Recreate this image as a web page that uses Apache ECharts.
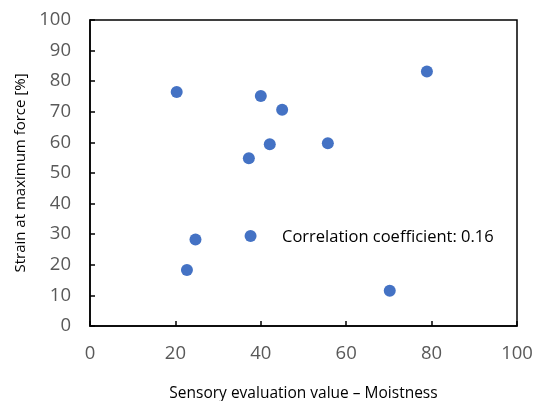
<!DOCTYPE html>
<html><head><meta charset="utf-8">
<script src="https://cdn.jsdelivr.net/npm/echarts@6/dist/echarts.min.js"></script>
<style>html,body{margin:0;padding:0;background:#fff}#c{width:534px;height:401px}</style>
</head><body><div id="c"></div>
<script>
const moistness = [20.3, 40.0, 45.0, 37.2, 42.1, 55.7, 78.9, 24.7, 22.7, 37.6, 70.2];
const strain    = [76.5, 75.2, 70.7, 54.8, 59.4, 59.7, 83.2, 28.3, 18.3, 29.4, 11.5];
const xTitle = 'Sensory evaluation value – Moistness';
const yTitle = 'Strain at maximum force [%]';
const note = 'Correlation coefficient: 0.16';

const chart = echarts.init(document.getElementById('c'), null, {renderer:'canvas'});
const font = '"Open Sans", sans-serif';
chart.setOption({
  animation:false,
  grid:{left:90, top:20, right:17, bottom:75, containLabel:false, outerBoundsMode:'none',
    show:true, borderColor:'#000', borderWidth:1.5},
  xAxis:{type:'value', min:0, max:100, interval:20,
    name:xTitle, nameLocation:'middle', nameGap:60,
    nameTextStyle:{color:'#000', fontSize:15.5, fontFamily:font},
    axisLine:{show:true, lineStyle:{color:'#000', width:1.5}},
    axisTick:{show:true, inside:true, length:5, lineStyle:{color:'#000', width:1.5}},
    axisLabel:{color:'#595959', fontSize:18.5, fontFamily:font, margin:18},
    splitLine:{show:false}},
  yAxis:{type:'value', min:0, max:100, interval:10,
    name:yTitle, nameLocation:'middle', nameGap:62,
    nameTextStyle:{color:'#000', fontSize:15, fontFamily:font},
    axisLine:{show:true, lineStyle:{color:'#000', width:1.5}},
    axisTick:{show:true, inside:true, length:5, lineStyle:{color:'#000', width:1.5}},
    axisLabel:{color:'#595959', fontSize:18.5, fontFamily:font, margin:19},
    splitLine:{show:false}},
  series:[{type:'scatter', symbolSize:12,
    itemStyle:{color:'#4472C4', opacity:1},
    data: moistness.map((x,i)=>[x, strain[i]])}],
  graphic:[{type:'text', left:282, top:229,
    style:{text:note, fill:'#000', font:'16.5px "Open Sans", sans-serif'}}]
});
</script></body></html>
